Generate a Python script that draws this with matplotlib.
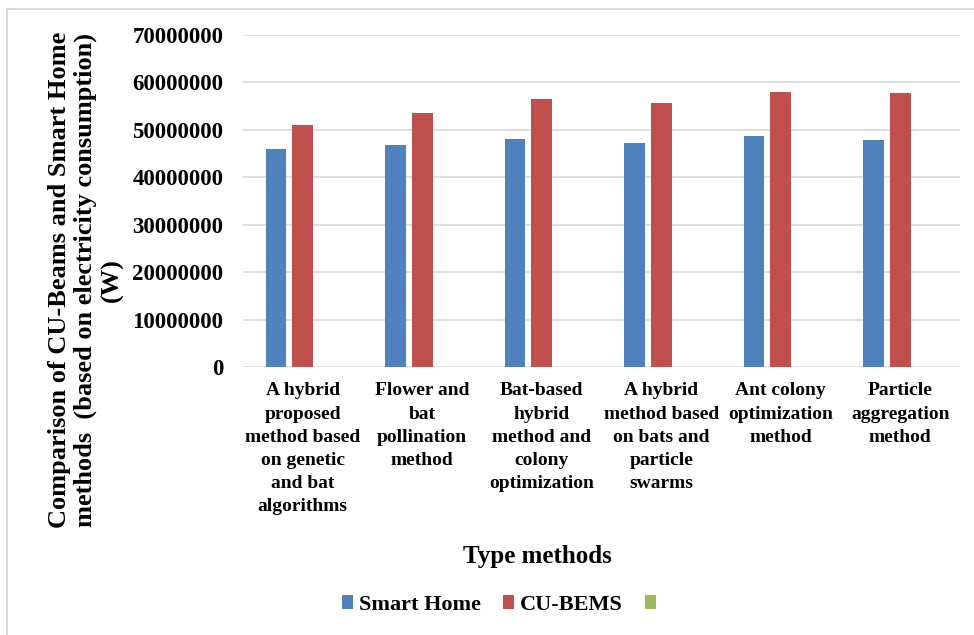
import numpy as np
import matplotlib.pyplot as plt
from matplotlib.patches import Rectangle

# -------------------- Data --------------------
categories = [
    "A hybrid\nproposed\nmethod based\non genetic\nand bat\nalgorithms",
    "Flower and\nbat\npollination\nmethod",
    "Bat-based\nhybrid\nmethod and\ncolony\noptimization",
    "A hybrid\nmethod based\non bats and\nparticle\nswarms",
    "Ant colony\noptimization\nmethod",
    "Particle\naggregation\nmethod",
]
smart_home = [45900000, 46900000, 48000000, 47200000, 48600000, 47900000]
cu_bems = [51000000, 53600000, 56500000, 55600000, 58000000, 57700000]
third_series = [0, 0, 0, 0, 0, 0]  # empty series shown only in legend
y_ticks = [0, 10000000, 20000000, 30000000, 40000000, 50000000, 60000000, 70000000]

BLUE, RED, GREEN = "#4F81BD", "#C0504D", "#9BBB59"
GRID = "#D9D9D9"

plt.rcParams['font.family'] = ['Liberation Serif', 'DejaVu Serif']
plt.rcParams['font.weight'] = 'bold'

fig = plt.figure(figsize=(9.74, 6.35), dpi=100)
ax = fig.add_axes([243 / 974, 1 - 367 / 635, 717 / 974, 332 / 635])

x = np.arange(len(categories))
w = 0.172
off = 0.223
b1 = ax.bar(x - off, smart_home, w, color=BLUE, zorder=3)
b2 = ax.bar(x, cu_bems, w, color=RED, zorder=3)
b3 = ax.bar(x + off, third_series, w, color=GREEN, zorder=3)

ax.set_xlim(-0.5, len(categories) - 0.5)
ax.set_ylim(0, 70000000)
ax.set_yticks(y_ticks)
ax.set_yticklabels([str(v) for v in y_ticks], fontsize=16.5, fontweight='bold')
ax.set_xticks(x)
ax.set_xticklabels(categories, fontsize=14, fontweight='bold', linespacing=1.48,
                   multialignment='center')
ax.tick_params(axis='y', length=0, pad=14)
ax.tick_params(axis='x', length=0, pad=11)

ax.grid(True, axis='y', color=GRID, linewidth=1.2, zorder=0)
for s in ax.spines.values():
    s.set_visible(False)

# y label (positioned like the source, not centred on the plot)
fig.text(86 / 974, 1 - 280 / 635,
         "Comparison of CU-Beams and Smart Home\nmethods  (based on electricity consumption)\n(W)",
         rotation=90, ha='center', va='center', multialignment='center',
         fontsize=19, fontweight='bold', linespacing=1.15)

fig.text(537 / 974, 1 - 557 / 635, "Type methods", ha='center', va='center',
         fontsize=18, fontweight='bold')

fig.legend([b1, b2, b3], ["Smart Home", "CU-BEMS", ""], loc='center',
           bbox_to_anchor=(502 / 974, 1 - 605 / 635), ncol=3, frameon=False,
           prop={'size': 16, 'weight': 'bold'}, handlelength=0.5, handleheight=0.55,
           handletextpad=0.25, columnspacing=1.0, borderpad=0)

# chart area border (only left and top edges visible in the source)
fig.patches.append(Rectangle((7 / 974, -0.05), 1.2, 1 - 9 / 635 + 0.05,
                             transform=fig.transFigure, fill=False,
                             edgecolor=GRID, linewidth=1.5, zorder=0))

fig.savefig("out.png", dpi=100)
